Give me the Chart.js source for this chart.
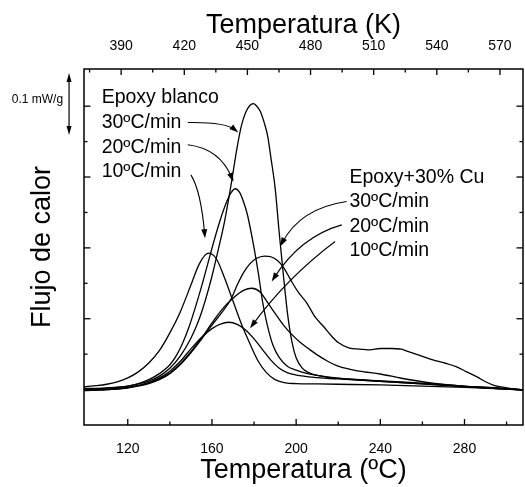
<!DOCTYPE html>
<html>
<head>
<meta charset="utf-8">
<script src="https://cdn.jsdelivr.net/npm/chart.js@4"></script>
<style>
body { margin: 0; background: #fff; }
#box { width: 525px; height: 487px; }
</style>
</head>
<body>
<div id="box"><canvas id="grafico"></canvas></div>
<script>
// eixos
var xMin = 99.2, xMax = 307.8
var yMin = 0, yMax = 10.05
var ticksC = [120, 160, 200, 240, 280]
var ticksCMenor = [140, 180, 220, 260, 300]
var ticksK = [390, 420, 450, 480, 510, 540, 570]
var ticksKMenor = [375, 405, 435, 465, 495, 525, 555]
var ticksY = [1, 3, 5, 7, 9]
var ticksYMenor = [2, 4, 6, 8]

// Epoxy blanco
var tE10 = [99.2, 105, 110, 115, 120, 125, 130, 135, 140, 145, 150, 154, 158.3, 162, 166, 170, 174, 178, 182, 186, 190, 195, 200, 210, 220, 240, 260, 280, 300, 307.8]
var yE10 = [1.08, 1.11, 1.15, 1.22, 1.33, 1.5, 1.75, 2.1, 2.6, 3.2, 3.95, 4.55, 4.85, 4.7, 4.15, 3.5, 2.85, 2.3, 1.8, 1.47, 1.28, 1.19, 1.17, 1.16, 1.15, 1.13, 1.1, 1.06, 1.01, 0.99]
var tE20 = [99.2, 110, 120, 125, 130, 135, 140, 143, 146, 149, 152, 155, 158, 161, 164, 167, 169, 171, 173, 175, 177, 180, 182, 184, 186, 189, 192, 196, 200, 205, 210, 220, 230, 240, 260, 280, 300, 307.8]
var yE20 = [1.03, 1.05, 1.1, 1.17, 1.28, 1.45, 1.7, 1.95, 2.3, 2.75, 3.3, 3.9, 4.55, 5.2, 5.8, 6.3, 6.55, 6.67, 6.58, 6.3, 5.9, 5.0, 4.3, 3.5, 2.9, 2.25, 1.9, 1.65, 1.55, 1.46, 1.4, 1.32, 1.27, 1.23, 1.16, 1.09, 1.02, 0.99]
var tE30 = [99.2, 110, 120, 130, 135, 140, 145, 150, 154, 157, 160, 163, 166, 169, 172, 174, 176, 178, 179.7, 181, 183, 185, 186.5, 188, 190, 192, 194, 196, 198, 200, 203, 206, 210, 216, 230, 245, 260, 280, 300, 307.8]
var yE30 = [1.0, 1.04, 1.1, 1.24, 1.38, 1.6, 1.95, 2.45, 3.0, 3.55, 4.2, 4.95, 5.75, 6.75, 7.85, 8.45, 8.82, 9.02, 9.07, 9.02, 8.85, 8.5, 8.15, 7.55, 6.7, 5.4, 4.2, 3.1, 2.35, 1.9, 1.6, 1.48, 1.4, 1.34, 1.28, 1.23, 1.18, 1.1, 1.03, 0.99]

// Epoxy+30% Cu
var tC10 = [99.2, 110, 120, 130, 135, 140, 145, 150, 155, 160, 164, 168, 172, 176, 180, 184, 188, 192, 196, 200, 210, 220, 230, 250, 270, 290, 307.8]
var yC10 = [0.97, 1.0, 1.05, 1.2, 1.33, 1.52, 1.8, 2.15, 2.47, 2.72, 2.85, 2.9, 2.84, 2.68, 2.43, 2.13, 1.83, 1.6, 1.47, 1.41, 1.34, 1.3, 1.27, 1.2, 1.12, 1.05, 0.99]
var tC20 = [99.2, 110, 120, 130, 135, 140, 145, 150, 155, 160, 165, 170, 175, 179, 183, 186, 190, 194, 198, 202, 206, 210, 215, 220, 230, 240, 250, 265, 280, 295, 307.8]
var yC20 = [0.99, 1.01, 1.06, 1.19, 1.3, 1.47, 1.73, 2.07, 2.45, 2.88, 3.28, 3.58, 3.8, 3.86, 3.75, 3.5, 3.15, 2.82, 2.55, 2.33, 2.15, 1.98, 1.8, 1.66, 1.52, 1.44, 1.32, 1.18, 1.09, 1.03, 0.99]
var tC30 = [99.2, 110, 120, 130, 135, 140, 145, 150, 155, 160, 165, 169, 172, 175, 178, 181, 185, 188, 191, 194, 197, 201, 205, 209, 213, 217, 220, 225, 230, 235, 240, 245, 250, 253, 258, 265, 270, 276, 281, 286, 290, 294, 300, 307.8]
var yC30 = [0.98, 1.0, 1.05, 1.17, 1.28, 1.45, 1.71, 2.04, 2.42, 2.82, 3.2, 3.55, 3.95, 4.3, 4.55, 4.7, 4.77, 4.75, 4.65, 4.45, 4.14, 3.75, 3.45, 3.05, 2.78, 2.5, 2.33, 2.18, 2.14, 2.12, 2.16, 2.16, 2.14, 2.08, 1.98, 1.84, 1.76, 1.65, 1.5, 1.36, 1.22, 1.12, 1.05, 0.99]

// textos das anotações: [texto, T, valor da linha de base]
var rotulosEpoxy = [['Epoxy blanco', 107.6, 9.09], ['30ºC/min', 107.6, 8.38], ['20ºC/min', 107.6, 7.69], ['10ºC/min', 107.6, 7.01]]
var rotulosCu = [['Epoxy+30% Cu', 225.3, 6.83], ['30ºC/min', 225.3, 6.15], ['20ºC/min', 225.3, 5.46], ['10ºC/min', 225.3, 4.77]]
// setas: [T0, v0, Tcontrole, vcontrole, T1, v1]
var setas = [
    [148.5, 8.54, 166.3, 8.56, 172.5, 8.26],
    [148.5, 7.91, 163.8, 7.8, 170.2, 6.87],
    [150.0, 7.06, 154.8, 6.6, 156.7, 5.27],
    [224.0, 6.31, 202.0, 6.12, 192.4, 5.04],
    [221.7, 5.65, 202.0, 5.32, 188.4, 4.05],
    [218.5, 5.18, 195.5, 4.15, 178.1, 2.73]
]
// barra de escala 0.1 mW/g
var escalaT = 92.1, escalaV0 = 8.19, escalaV1 = 9.94

var fonte = 'Liberation Sans, Arial, sans-serif'

function pontos(ts, ys) {
    return ts.map(function (t, i) { return { x: t, y: ys[i] } })
}

function ponta(ctx, x, y, ang, comp, larg) {
    ctx.beginPath()
    ctx.moveTo(x, y)
    ctx.lineTo(x - comp * Math.cos(ang) + larg * Math.sin(ang), y - comp * Math.sin(ang) - larg * Math.cos(ang))
    ctx.lineTo(x - comp * Math.cos(ang) - larg * Math.sin(ang), y - comp * Math.sin(ang) + larg * Math.cos(ang))
    ctx.closePath()
    ctx.fill()
}

var decoracao = {
    id: 'decoracao',
    afterDraw: function (chart) {
        var ctx = chart.ctx
        var a = chart.chartArea
        var x = chart.scales.x, xk = chart.scales.xk, y = chart.scales.y
        ctx.save()
        ctx.strokeStyle = '#000'
        ctx.fillStyle = '#000'

        // moldura
        ctx.lineWidth = 1.5
        ctx.strokeRect(a.left, a.top, a.right - a.left, a.bottom - a.top)

        // ticks para dentro
        function tick(px, py, dx, dy) {
            ctx.beginPath()
            ctx.moveTo(px, py)
            ctx.lineTo(px + dx, py + dy)
            ctx.stroke()
        }
        ctx.lineWidth = 1.3
        ticksC.forEach(function (v) { tick(x.getPixelForValue(v), a.bottom, 0, -6) })
        ticksCMenor.forEach(function (v) { tick(x.getPixelForValue(v), a.bottom, 0, -3.5) })
        ticksK.forEach(function (v) { tick(xk.getPixelForValue(v), a.top, 0, 6) })
        ticksKMenor.forEach(function (v) { tick(xk.getPixelForValue(v), a.top, 0, 3.5) })
        ticksY.forEach(function (v) {
            tick(a.left, y.getPixelForValue(v), 6.5, 0)
            tick(a.right, y.getPixelForValue(v), -6.5, 0)
        })
        ticksYMenor.forEach(function (v) {
            tick(a.left, y.getPixelForValue(v), 3.5, 0)
            tick(a.right, y.getPixelForValue(v), -3.5, 0)
        })

        // rótulos
        ctx.font = '19.5px ' + fonte
        ctx.textAlign = 'left'
        ctx.textBaseline = 'alphabetic'
        rotulosEpoxy.concat(rotulosCu).forEach(function (r) {
            ctx.fillText(r[0], x.getPixelForValue(r[1]), y.getPixelForValue(r[2]))
        })

        // setas curvas
        ctx.lineWidth = 1.1
        setas.forEach(function (s) {
            var x0 = x.getPixelForValue(s[0]), y0 = y.getPixelForValue(s[1])
            var cx = x.getPixelForValue(s[2]), cy = y.getPixelForValue(s[3])
            var x1 = x.getPixelForValue(s[4]), y1 = y.getPixelForValue(s[5])
            var ang = Math.atan2(y1 - cy, x1 - cx)
            ctx.beginPath()
            ctx.moveTo(x0, y0)
            ctx.quadraticCurveTo(cx, cy, x1 - 4 * Math.cos(ang), y1 - 4 * Math.sin(ang))
            ctx.stroke()
            ponta(ctx, x1, y1, ang, 9, 3)
        })

        // barra de escala
        var ex = x.getPixelForValue(escalaT)
        var ey0 = y.getPixelForValue(escalaV0), ey1 = y.getPixelForValue(escalaV1)
        ctx.lineWidth = 1.2
        ctx.beginPath()
        ctx.moveTo(ex, ey0 - 6)
        ctx.lineTo(ex, ey1 + 6)
        ctx.stroke()
        ponta(ctx, ex, ey1, -Math.PI / 2, 9, 2.5)
        ponta(ctx, ex, ey0, Math.PI / 2, 9, 2.5)
        ctx.font = '12px ' + fonte
        ctx.textAlign = 'right'
        ctx.textBaseline = 'middle'
        ctx.fillText('0.1 mW/g', ex - 6, (ey0 + ey1) / 2 - 4)

        ctx.restore()
    }
}

var series = [[tE10, yE10], [tE20, yE20], [tE30, yE30], [tC10, yC10], [tC20, yC20], [tC30, yC30]]

var grafico = new Chart(document.getElementById('grafico'), {
    type: 'line',
    data: {
        datasets: series.map(function (s) {
            return {
                data: pontos(s[0], s[1]),
                borderColor: '#000',
                borderWidth: 1.3,
                pointRadius: 0,
                fill: false,
                cubicInterpolationMode: 'monotone'
            }
        })
    },
    options: {
        responsive: true,
        maintainAspectRatio: false,
        animation: false,
        events: [],
        layout: { padding: { right: 2, left: 0, top: 0, bottom: 0 } },
        plugins: {
            legend: { display: false },
            tooltip: { enabled: false }
        },
        scales: {
            x: {
                type: 'linear',
                position: 'bottom',
                min: xMin,
                max: xMax,
                grid: { display: false },
                border: { display: false },
                afterBuildTicks: function (s) { s.ticks = ticksC.map(function (v) { return { value: v } }) },
                afterFit: function (s) { s.height = 62 },
                ticks: { padding: 8, maxRotation: 0, autoSkip: false, color: '#000', font: { family: fonte, size: 14 } },
                title: {
                    display: true,
                    text: 'Temperatura (ºC)',
                    color: '#000',
                    font: { family: fonte, size: 27, lineHeight: 1.2 },
                    padding: { top: 0, bottom: 0 }
                }
            },
            xk: {
                type: 'linear',
                position: 'top',
                min: xMin + 273.15,
                max: xMax + 273.15,
                grid: { display: false },
                border: { display: false },
                afterBuildTicks: function (s) { s.ticks = ticksK.map(function (v) { return { value: v } }) },
                afterFit: function (s) { s.height = 69 },
                ticks: { padding: 6.5, maxRotation: 0, autoSkip: false, color: '#000', font: { family: fonte, size: 14 } },
                title: {
                    display: true,
                    text: 'Temperatura (K)',
                    color: '#000',
                    font: { family: fonte, size: 27, lineHeight: 1.2 },
                    padding: { top: 9.3, bottom: 0 }
                }
            },
            y: {
                type: 'linear',
                position: 'left',
                min: yMin,
                max: yMax,
                grid: { display: false },
                border: { display: false },
                ticks: { display: false },
                afterFit: function (s) { s.width = 84 },
                title: {
                    display: true,
                    text: 'Flujo de calor',
                    color: '#000',
                    font: { family: fonte, size: 27, lineHeight: 1.2 },
                    padding: { top: 26.4, bottom: 0 }
                }
            }
        }
    },
    plugins: [decoracao]
})
</script>
</body>
</html>
